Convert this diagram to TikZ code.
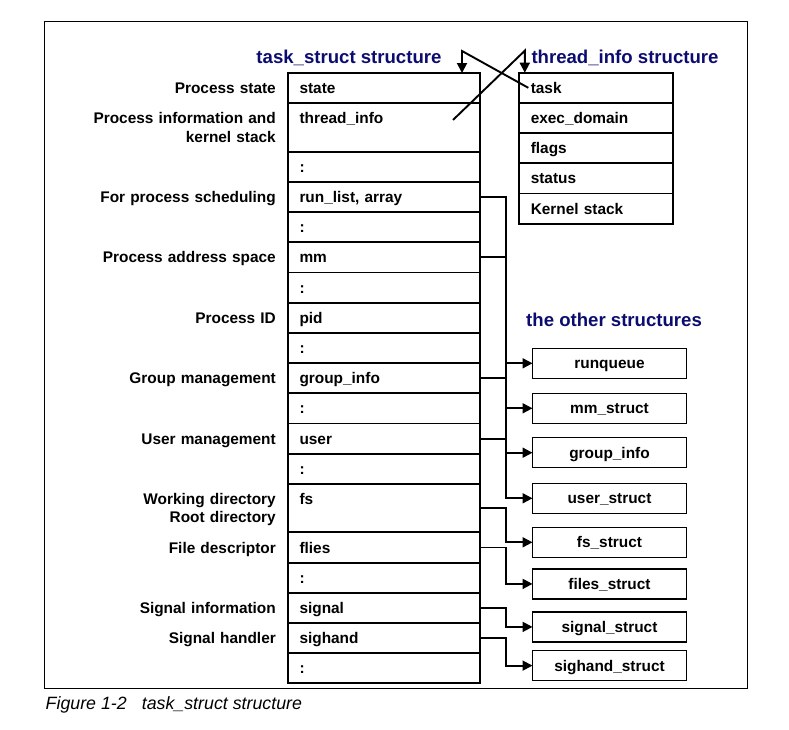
\documentclass[tikz,border=0pt]{standalone}
\usepackage{fontspec}
\setmainfont{Liberation Sans}
\usepackage{xcolor}
\usepackage{tikz}
\usetikzlibrary{arrows.meta, positioning, calc}

\definecolor{titleblue}{RGB}{12,12,112}
\newcommand{\fieldfont}{\fontsize{15.4}{18.5}\selectfont\bfseries}
\newcommand{\headfont}{\fontsize{18.6}{22}\selectfont\bfseries}
\newcommand{\capfont}{\fontsize{17.8}{21}\selectfont\itshape}

\begin{document}
\begin{tikzpicture}[
    x=1pt, y=1pt,
    % Styles
    field/.style={rectangle, draw=black, line width=1.9pt, minimum width=192pt, minimum height=30.2pt, text width=169pt, inner xsep=11.5pt, inner ysep=0pt, outer sep=0pt, align=left, font=\fieldfont, text height=11pt, text depth=0pt},
    tall/.style={minimum height=48.5pt, text depth=18.5pt},
    tfield/.style={field, minimum width=154pt, text width=131pt},
    other/.style={rectangle, draw=black, line width=1.2pt, minimum width=154pt, minimum height=30pt, inner sep=0pt, outer sep=0pt, align=center, font=\fieldfont, text height=11pt, text depth=0pt},
    desc/.style={text width=220pt, align=right, inner sep=0pt, font=\fieldfont, text height=11pt, text depth=0pt},
    title/.style={inner sep=0pt, font=\headfont, text=titleblue},
    arrow/.style={-{Triangle[length=10pt, width=10pt]}, line width=1.9pt},
    frame/.style={draw=black, line width=1pt}
]
    \useasboundingbox (0,0) rectangle (789,-729);
    \draw[frame] (44,-21) rectangle (747.5,-688);

    % task_struct rows, top to bottom
    \node[field, anchor=north west] (state) at (288,-73) {state};
    \node[field, tall, below=0pt of state] (threadinfo) {thread\_info};
    \node[field, below=0pt of threadinfo] (dotsA) {:};
    \node[field, below=0pt of dotsA] (runlist) {run\_list, array};
    \node[field, below=0pt of runlist] (dotsB) {:};
    \node[field, below=0pt of dotsB] (mm) {mm};
    \node[field, below=0pt of mm] (dotsC) {:};
    \node[field, below=0pt of dotsC] (pid) {pid};
    \node[field, below=0pt of pid] (dotsD) {:};
    \node[field, below=0pt of dotsD] (groupinfo) {group\_info};
    \node[field, below=0pt of groupinfo] (dotsE) {:};
    \node[field, below=0pt of dotsE] (user) {user};
    \node[field, below=0pt of user] (dotsF) {:};
    \node[field, tall, below=0pt of dotsF] (fs) {fs};
    \node[field, below=0pt of fs] (flies) {flies};
    \node[field, below=0pt of flies] (dotsG) {:};
    \node[field, below=0pt of dotsG] (signal) {signal};
    \node[field, below=0pt of signal] (sighand) {sighand};
    \node[field, below=0pt of sighand] (dotsH) {:};

    % What the rows are for
    \node[desc, left=12pt of state] (lstate) {Process state};
    \node[desc, text depth=18.5pt, left=12pt of threadinfo] (lthreadinfo) {Process information and\\kernel stack};
    \node[desc, left=12pt of runlist] (lrunlist) {For process scheduling};
    \node[desc, left=12pt of mm] (lmm) {Process address space};
    \node[desc, left=12pt of pid] (lpid) {Process ID};
    \node[desc, left=12pt of groupinfo] (lgroupinfo) {Group management};
    \node[desc, left=12pt of user] (luser) {User management};
    \node[desc, text depth=18.5pt, left=12pt of fs] (lfs) {Working directory\\Root directory};
    \node[desc, left=12pt of flies] (lflies) {File descriptor};
    \node[desc, left=12pt of signal] (lsignal) {Signal information};
    \node[desc, left=12pt of sighand] (lsighand) {Signal handler};

    % thread_info rows
    \node[tfield, anchor=north west] (task) at (519.3,-72.7) {task};
    \node[tfield, below=0pt of task] (execdomain) {exec\_domain};
    \node[tfield, below=0pt of execdomain] (flags) {flags};
    \node[tfield, below=0pt of flags] (status) {status};
    \node[tfield, below=0pt of status] (kstack) {Kernel stack};

    % The other structures
    \node[other, anchor=north west] (runqueue) at (532.5,-348.3) {runqueue};
    \node[other, below=15pt of runqueue] (mmstruct) {mm\_struct};
    \node[other, below=14.4pt of mmstruct] (groupbox) {group\_info};
    \node[other, below=15.6pt of groupbox] (userstruct) {user\_struct};
    \node[other, below=14pt of userstruct] (fsstruct) {fs\_struct};
    \node[other, below=11.6pt of fsstruct] (filesstruct) {files\_struct};
    \node[other, below=13pt of filesstruct] (signalstruct) {signal\_struct};
    \node[other, below=8.7pt of signalstruct] (sighandstruct) {sighand\_struct};

    % Titles
    \node[title, anchor=base east] (tasktitle) at ([xshift=-38.3pt, yshift=9.7pt]state.north east) {task\_struct structure};
    \node[title, anchor=base west] (infotitle) at ([xshift=12pt, yshift=9.4pt]task.north west) {thread\_info structure};
    \node[title, anchor=base west] (othertitle) at ([xshift=-6.5pt, yshift=21.6pt]runqueue.north west) {the other structures};

    % Pointers between task_struct and thread_info
    \draw[arrow] ([xshift=9pt]task.west) -- ([xshift=-18pt, yshift=22pt]state.north east) -- ([xshift=-18pt]state.north east);
    \draw[arrow] ([xshift=-27pt, yshift=7.5pt]threadinfo.east) -- ([xshift=5.5pt, yshift=22pt]task.north west) -- ([xshift=5.5pt]task.north west);

    % Pointers to the other structures
    \coordinate (bus) at (506,0);
    \draw[arrow] (runlist.east) -| (bus |- runqueue) -- (runqueue);
    \draw[arrow] (mm.east) -| (bus |- mmstruct) -- (mmstruct);
    \draw[arrow] (groupinfo.east) -| (bus |- groupbox) -- (groupbox);
    \draw[arrow] (user.east) -| (bus |- userstruct) -- (userstruct);
    \draw[arrow] (fs.east) -| (bus |- fsstruct) -- (fsstruct);
    \draw[arrow] (flies.east) -| (bus |- filesstruct) -- (filesstruct);
    \draw[arrow] (signal.east) -| (bus |- signalstruct) -- (signalstruct);
    \draw[arrow] (sighand.east) -| (bus |- sighandstruct) -- (sighandstruct);

    % Caption
    \node[anchor=base west, inner sep=0pt, font=\capfont] (caption) at (45.5,-709.3) {Figure 1-2\hspace{15pt}task\_struct structure};
\end{tikzpicture}
\end{document}
